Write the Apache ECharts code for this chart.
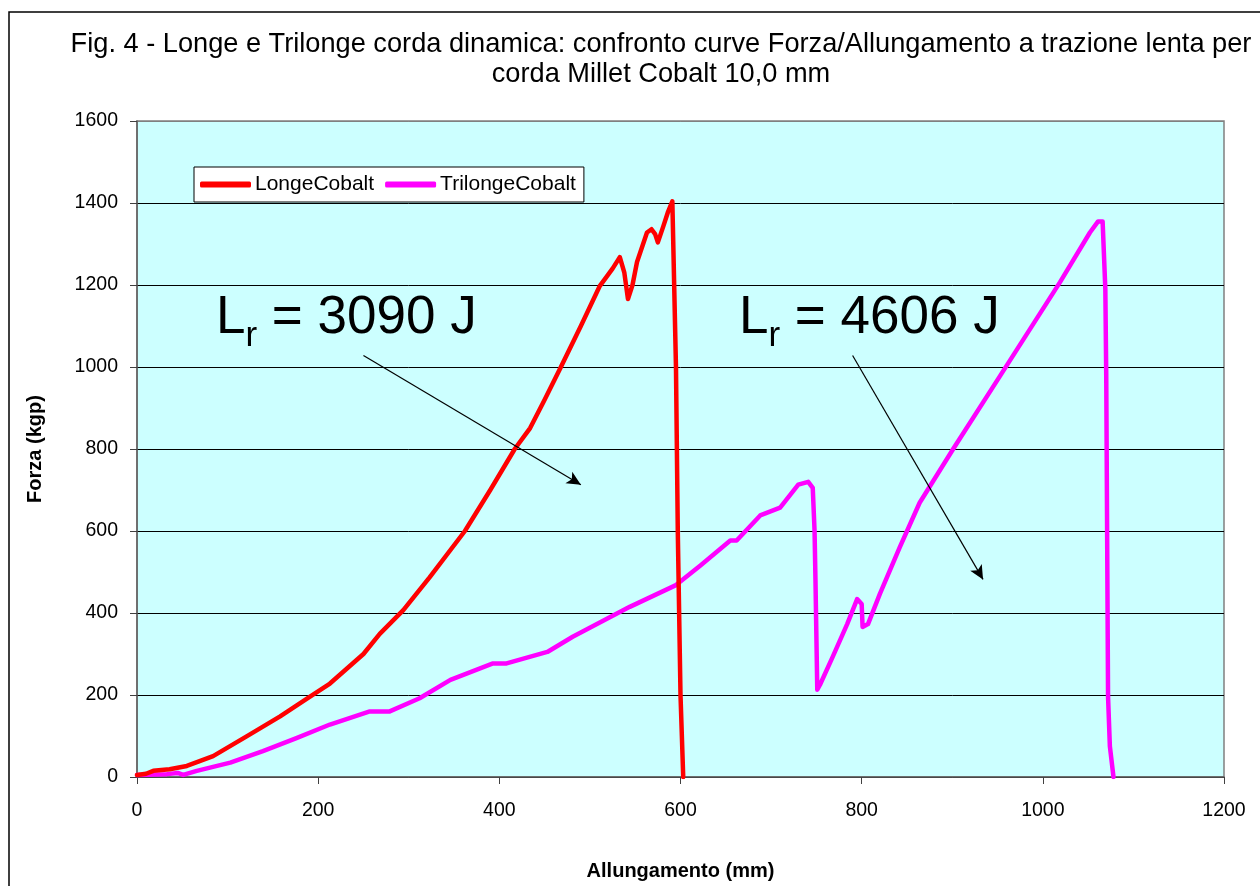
<!DOCTYPE html>
<html>
<head>
<meta charset="utf-8">
<script src="https://cdn.jsdelivr.net/npm/echarts@6/dist/echarts.min.js"></script>
<style>
html,body{margin:0;padding:0;background:#fff;}
#chart{width:1260px;height:886px;}
</style>
</head>
<body>
<div id="chart"></div>
<script>
// ---- Data ----
const longeX = [0, 10, 18, 36, 55, 84, 121, 158, 191, 213, 250, 268, 294, 323, 362, 390, 417, 434, 450, 467, 490, 511, 525, 533, 538, 542, 547, 552, 563, 568, 572, 575, 581, 586, 591, 593, 595, 597, 600, 603];
const longeY = [5, 8, 15, 19, 27, 51, 99, 148, 196, 228, 300, 349, 407, 487, 600, 700, 800, 851, 920, 996, 1100, 1198, 1240, 1268, 1230, 1166, 1200, 1256, 1328, 1336, 1324, 1304, 1343, 1377, 1404, 1400, 1000, 600, 200, 0];

const trilongeX = [0, 33, 45, 51, 66, 103, 139, 176, 213, 257, 279, 312, 346, 393, 408, 453, 481, 544, 595, 622, 655, 662, 688, 710, 730, 741, 746, 748, 749, 751, 754, 768, 784, 795, 800, 801, 807, 820, 842, 864, 901, 953, 1019, 1052, 1061, 1066, 1069, 1070, 1072, 1074, 1078];
const trilongeY = [5, 7, 10, 5, 15, 35, 63, 95, 128, 160, 160, 192, 237, 277, 277, 305, 342, 415, 468, 516, 577, 577, 638, 657, 713, 720, 705, 600, 480, 213, 225, 293, 373, 434, 422, 366, 373, 446, 560, 669, 800, 979, 1207, 1328, 1355, 1355, 1190, 979, 196, 75, 0];

const seriesNames = ['LongeCobalt', 'TrilongeCobalt'];
const xTicks = [0, 200, 400, 600, 800, 1000, 1200];
const yTicks = [0, 200, 400, 600, 800, 1000, 1200, 1400, 1600];

// annotation arrows (data coordinates: start -> end)
const arrow1 = [[250, 1028], [490, 713]];
const arrow2 = [[790, 1028], [934, 482]];
const annot1 = '3090 J';
const annot2 = '4606 J';

const titleText = 'Fig. 4 - Longe e Trilonge corda dinamica: confronto curve Forza/Allungamento a trazione lenta per\ncorda Millet Cobalt 10,0 mm';

function pairs(xs, ys) { return xs.map((x, i) => [x, ys[i]]); }

const chart = echarts.init(document.getElementById('chart'), null, {renderer: 'canvas'});
const FONT = 'Liberation Sans, Arial, sans-serif';

function arrowLine(a) {
  return {
    silent: true,
    symbol: ['none', 'arrow'],
    symbolSize: [10, 14],
    label: {show: false},
    lineStyle: {color: '#000', width: 1.2, type: 'solid'},
    data: [[{coord: a[0]}, {coord: a[1]}]]
  };
}

const richAnnot = {
  L: {fontFamily: FONT, fontSize: 53, fill: '#000'},
  s: {fontFamily: FONT, fontSize: 35, fill: '#000', verticalAlign: 'bottom', padding: [0, 0, -9, 0]},
  v: {fontFamily: FONT, fontSize: 53, fill: '#000'}
};

const option = {
  backgroundColor: '#fff',
  animation: false,
  textStyle: {fontFamily: FONT},
  title: {
    text: titleText,
    left: 656,
    textAlign: 'center',
    top: 25,
    textStyle: {fontFamily: FONT, fontSize: 27.2, fontWeight: 'normal', color: '#000', lineHeight: 30}
  },
  legend: {
    data: seriesNames,
    left: 194,
    top: 167,
    orient: 'horizontal',
    backgroundColor: '#fff',
    borderColor: '#000',
    borderWidth: 1,
    padding: [7, 8, 7, 6],
    itemGap: 11,
    itemWidth: 51,
    itemHeight: 6,
    icon: 'roundRect',
    textStyle: {fontFamily: FONT, fontSize: 21, color: '#000', padding: [0, 0, 0, -1]}
  },
  grid: {
    left: 137, top: 121, right: 36, bottom: 105,
    show: true,
    backgroundColor: '#CCFFFF',
    borderColor: '#808080',
    borderWidth: 1.5
  },
  xAxis: {
    type: 'value',
    min: xTicks[0], max: xTicks[xTicks.length - 1], interval: 200,
    name: 'Allungamento (mm)',
    nameLocation: 'middle',
    nameGap: 84,
    nameTextStyle: {fontFamily: FONT, fontSize: 20, fontWeight: 'bold', color: '#000'},
    axisLine: {show: true, onZero: false, lineStyle: {color: '#606060', width: 1.5}},
    axisTick: {show: true, length: 7, lineStyle: {color: '#404040'}},
    axisLabel: {fontFamily: FONT, fontSize: 19.5, color: '#000', margin: 24, formatter: v => String(v)},
    splitLine: {show: false}
  },
  yAxis: {
    type: 'value',
    min: yTicks[0], max: yTicks[yTicks.length - 1], interval: 200,
    name: 'Forza (kgp)',
    nameLocation: 'middle',
    nameGap: 92,
    nameTextStyle: {fontFamily: FONT, fontSize: 20, fontWeight: 'bold', color: '#000'},
    axisLine: {show: true, lineStyle: {color: '#606060', width: 1.5}},
    axisTick: {show: true, length: 7, lineStyle: {color: '#404040'}},
    axisLabel: {fontFamily: FONT, fontSize: 19.5, color: '#000', margin: 19, formatter: v => String(v)},
    splitLine: {show: true, lineStyle: {color: ['#000', '#000', '#000', '#000', '#000', '#000', '#000', '#000', '#808080'], width: 1}}
  },
  series: [
    {
      name: seriesNames[0],
      type: 'line',
      data: pairs(longeX, longeY),
      showSymbol: false,
      symbol: 'none',
      color: '#FF0000',
      lineStyle: {color: '#FF0000', width: 4.5, cap: 'round', join: 'round'},
      z: 3,
      markLine: arrowLine(arrow1)
    },
    {
      name: seriesNames[1],
      type: 'line',
      data: pairs(trilongeX, trilongeY),
      showSymbol: false,
      symbol: 'none',
      color: '#FF00FF',
      lineStyle: {color: '#FF00FF', width: 4.5, cap: 'round', join: 'round'},
      z: 2,
      markLine: arrowLine(arrow2)
    }
  ],
  graphic: [
    {
      type: 'rect', silent: true, z: -10,
      shape: {x: 9, y: 12, width: 1300, height: 900},
      style: {fill: 'none', stroke: '#000', lineWidth: 1.5}
    },
    {
      type: 'text', z: 100, left: 216, top: 292, silent: true,
      style: {rich: richAnnot, text: '{L|L}{s|r}{v| = ' + annot1 + '}'}
    },
    {
      type: 'text', z: 100, left: 739, top: 292, silent: true,
      style: {rich: richAnnot, text: '{L|L}{s|r}{v| = ' + annot2 + '}'}
    }
  ]
};
chart.setOption(option);
</script>
</body>
</html>
